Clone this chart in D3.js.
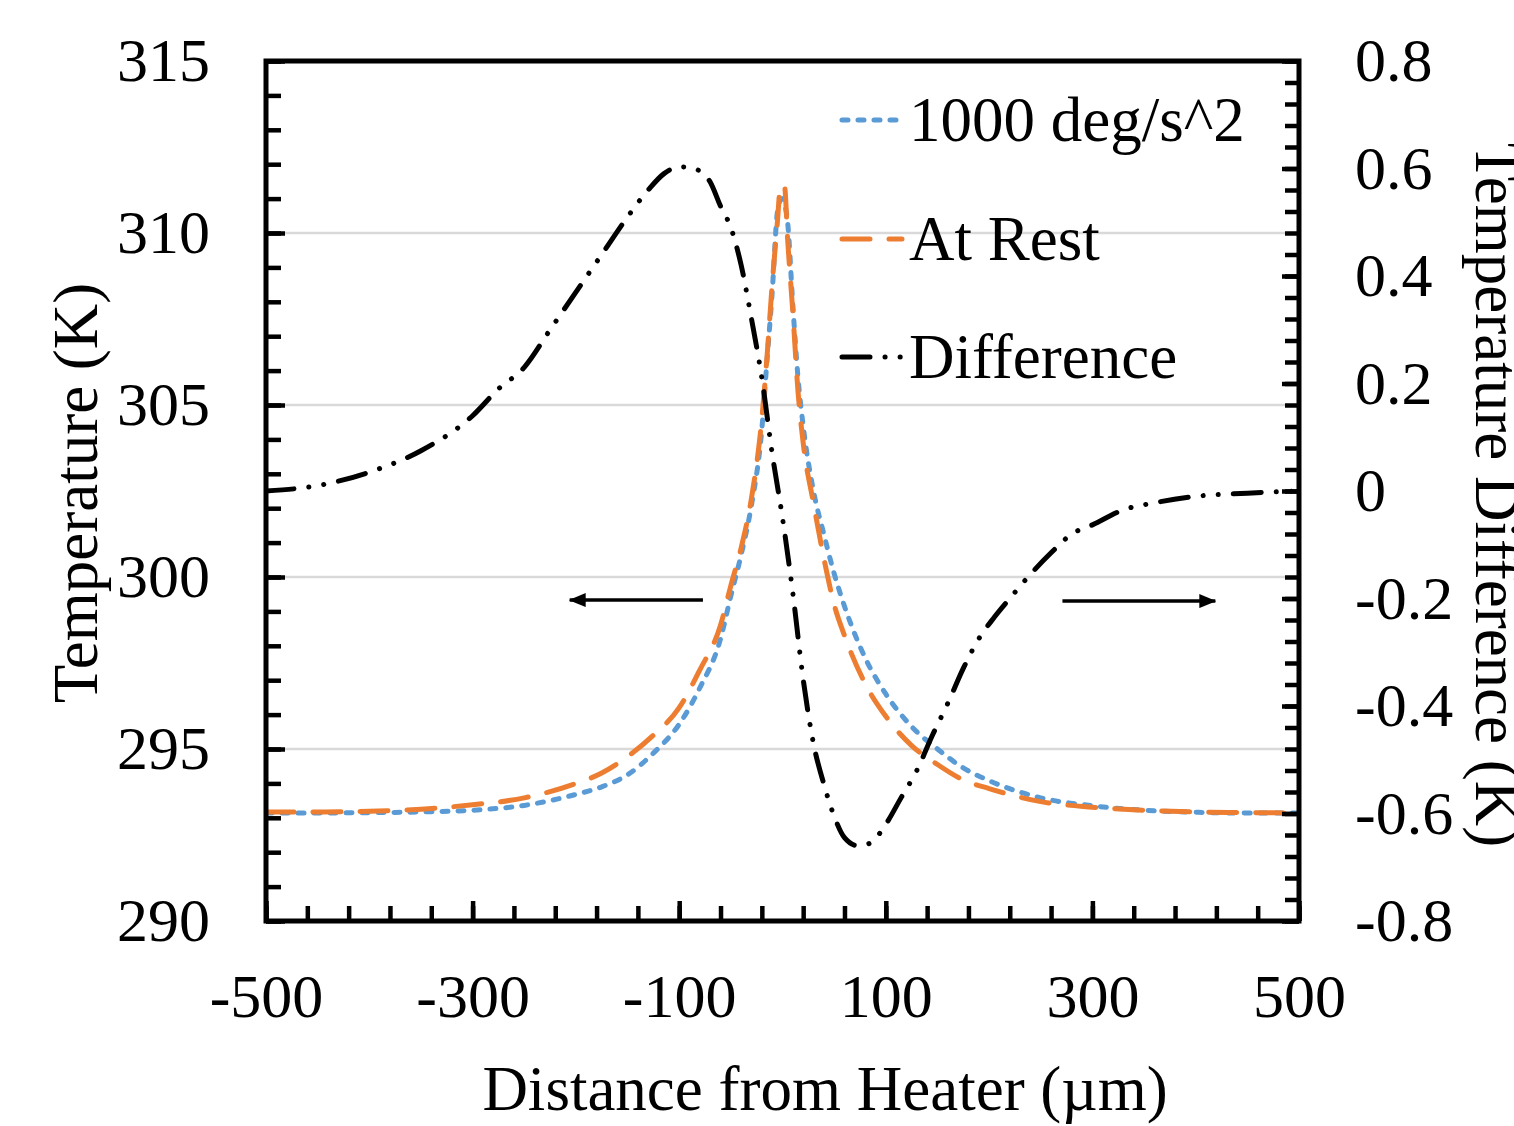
<!DOCTYPE html>
<meta charset="utf-8">
<title>Temperature vs distance from heater</title>
<style>
    body {
        margin: 0;
        background: #fff;
    }

    svg text {
        font-family: "Liberation Serif", "Times New Roman", serif;
        fill: #000;
    }
</style>

<body>
    <script src="https://cdn.jsdelivr.net/npm/d3@7"></script>
    <script>
        /* Distance from heater (um), shared by both temperature curves */
        var distance = [-500, -450, -400, -350, -300, -250, -200, -175, -150, -125, -100, -80, -60, -50, -40, -30,
            -20, -15, -10, -5, -2, 0, 2, 5, 10, 15, 20, 30, 40, 50, 60, 80, 100, 125, 150, 175, 200, 250, 300, 350,
            400, 450, 500];

        /* Temperature (K) while spinning at 1000 deg/s^2 */
        var tempSpin = [293.14, 293.14, 293.15, 293.17, 293.22, 293.36, 293.68, 293.90, 294.25, 294.88, 295.72,
            296.78, 298.20, 299.45, 300.65, 302.10, 304.30, 306.30, 308.26, 310.60, 310.95, 311.00, 310.85, 310.30,
            307.90, 305.80, 304.40, 302.50, 301.25, 300.10, 299.15, 297.65, 296.60, 295.65, 295.00, 294.45, 294.08,
            293.58, 293.35, 293.22, 293.16, 293.14, 293.14];

        /* Temperature (K) at rest */
        var tempRest = [293.17, 293.17, 293.19, 293.25, 293.38, 293.58, 294.00, 294.30, 294.78, 295.40, 296.20,
            297.30, 298.60, 299.75, 300.85, 302.30, 304.60, 306.40, 308.50, 310.30, 311.35, 311.40, 311.35, 309.80,
            307.70, 305.40, 303.90, 302.15, 300.55, 299.20, 298.30, 296.90, 295.95, 295.10, 294.55, 294.10, 293.85,
            293.47, 293.31, 293.22, 293.17, 293.15, 293.14];

        /* Temperature difference (K), right axis */
        var diffDistance = [-500, -450, -400, -350, -300, -275, -250, -225, -200, -175, -150, -130, -115, -100, -90,
            -80, -70, -60, -50, -40, -30, -20, -10, 0, 10, 20, 30, 40, 50, 60, 73, 85, 100, 115, 130, 145, 160, 175,
            190, 205, 220, 240, 260, 280, 300, 330, 360, 400, 450, 500];
        var diffValue = [0.000, 0.010, 0.035, 0.075, 0.140, 0.190, 0.230, 0.300, 0.370, 0.440, 0.510, 0.560, 0.590,
            0.603, 0.602, 0.595, 0.575, 0.530, 0.490, 0.420, 0.320, 0.210, 0.070, -0.050, -0.190, -0.350, -0.470,
            -0.545, -0.605, -0.645, -0.660, -0.655, -0.620, -0.570, -0.520, -0.455, -0.395, -0.330, -0.275, -0.235,
            -0.200, -0.155, -0.115, -0.080, -0.063, -0.035, -0.022, -0.010, -0.004, 0.000];

        var xTicks = [-500, -300, -100, 100, 300, 500];
        var leftTicks = [290, 295, 300, 305, 310, 315];
        var rightTicks = [-0.8, -0.6, -0.4, -0.2, 0, 0.2, 0.4, 0.6, 0.8];
        var seriesNames = ["1000 deg/s^2", "At Rest", "Difference"];

        /* Arrows showing which axis a curve belongs to: [from x, to x, temperature] */
        var arrows = [[-77, -206, 299.33], [271, 419, 299.3]];

        /* Layout constants */
        var width = 1514,
            height = 1126;
        var plot = { left: 266, right: 1299, top: 61, bottom: 921 };
        var fontSize = 62;
        var lineWidth = 5;

        var svg = d3.select("body").append("svg")
            .attr("width", width)
            .attr("height", height);

        var x = d3.scaleLinear().domain([-500, 500]).range([plot.left, plot.right]);
        var yLeft = d3.scaleLinear().domain([290, 315]).range([plot.bottom, plot.top]);
        var yRight = d3.scaleLinear().domain([-0.8, 0.8]).range([plot.bottom, plot.top]);

        // grid lines on the left axis
        svg.append("g")
            .selectAll("line")
            .data(leftTicks.slice(1, -1))
            .enter()
            .append("line")
            .attr("x1", plot.left)
            .attr("x2", plot.right)
            .attr("y1", d => yLeft(d))
            .attr("y2", d => yLeft(d))
            .attr("stroke", "#d9d9d9")
            .attr("stroke-width", 2.5);

        svg.append("clipPath")
            .attr("id", "clip")
            .append("rect")
            .attr("x", plot.left)
            .attr("y", plot.top)
            .attr("width", plot.right - plot.left)
            .attr("height", plot.bottom - plot.top);

        var tempLine = d3.line()
            .x((d, i) => x(distance[i]))
            .y(d => yLeft(d))
            .curve(d3.curveMonotoneX);

        var diffLine = d3.line()
            .x((d, i) => x(diffDistance[i]))
            .y(d => yRight(d))
            .curve(d3.curveMonotoneX);

        var styles = [
            { color: "#5b9bd5", dash: "6,10" },
            { color: "#ed7d31", dash: "28,19" },
            { color: "#000000", dash: "28,15,0.1,15,0.1,15" }
        ];

        var curves = svg.append("g").attr("clip-path", "url(#clip)");

        curves.append("path")
            .attr("d", tempLine(tempSpin))
            .attr("fill", "none")
            .attr("stroke", styles[0].color)
            .attr("stroke-width", lineWidth)
            .attr("stroke-linecap", "round")
            .attr("stroke-dasharray", styles[0].dash);

        curves.append("path")
            .attr("d", tempLine(tempRest))
            .attr("fill", "none")
            .attr("stroke", styles[1].color)
            .attr("stroke-width", lineWidth)
            .attr("stroke-linecap", "round")
            .attr("stroke-dasharray", styles[1].dash);

        curves.append("path")
            .attr("d", diffLine(diffValue))
            .attr("fill", "none")
            .attr("stroke", styles[2].color)
            .attr("stroke-width", lineWidth)
            .attr("stroke-linecap", "round")
            .attr("stroke-dasharray", styles[2].dash);

        // arrows
        svg.append("defs").append("marker")
            .attr("id", "head")
            .attr("markerUnits", "userSpaceOnUse")
            .attr("markerWidth", 17)
            .attr("markerHeight", 14)
            .attr("refX", 16)
            .attr("refY", 7)
            .attr("orient", "auto")
            .append("path")
            .attr("d", "M0,0 L17,7 L0,14 Z")
            .attr("fill", "#000");

        svg.append("g")
            .selectAll("line")
            .data(arrows)
            .enter()
            .append("line")
            .attr("x1", d => x(d[0]))
            .attr("x2", d => x(d[1]))
            .attr("y1", d => yLeft(d[2]))
            .attr("y2", d => yLeft(d[2]))
            .attr("stroke", "#000")
            .attr("stroke-width", 3.5)
            .attr("marker-end", "url(#head)");

        /* Axes: minor ticks first, then the labelled major ticks */
        function styleAxis(g) {
            g.select(".domain").remove();
            g.selectAll(".tick line").attr("stroke", "#000").attr("stroke-width", 4.5);
            g.selectAll("text").attr("font-size", fontSize).attr("fill", "#000");
        }

        svg.append("g")
            .attr("transform", "translate(0," + plot.bottom + ")")
            .call(d3.axisBottom(x).tickValues(d3.range(-500, 501, 40)).tickSize(-15).tickFormat(""))
            .call(styleAxis);
        svg.append("g")
            .attr("transform", "translate(0," + plot.bottom + ")")
            .call(d3.axisBottom(x).tickValues(xTicks).tickSize(-20).tickPadding(10).tickFormat(d => String(d)))
            .call(styleAxis)
            .selectAll("text")
            .attr("y", 96)
            .attr("dy", 0);

        svg.append("g")
            .attr("transform", "translate(" + plot.left + ",0)")
            .call(d3.axisLeft(yLeft).tickValues(d3.range(290, 316, 1)).tickSize(-15).tickFormat(""))
            .call(styleAxis);
        svg.append("g")
            .attr("transform", "translate(" + plot.left + ",0)")
            .call(d3.axisLeft(yLeft).tickValues(leftTicks).tickSize(-19).tickPadding(56).tickFormat(d => String(d)))
            .call(styleAxis);

        svg.append("g")
            .attr("transform", "translate(" + plot.right + ",0)")
            .call(d3.axisRight(yRight).tickValues(d3.range(0, 41).map(i => -0.8 + i * 0.04)).tickSize(-14).tickFormat(""))
            .call(styleAxis);
        svg.append("g")
            .attr("transform", "translate(" + plot.right + ",0)")
            .call(d3.axisRight(yRight).tickValues(rightTicks).tickSize(-17).tickPadding(56)
                .tickFormat(d => Math.abs(d) < 1e-9 ? "0" : d.toFixed(1)))
            .call(styleAxis);

        // frame
        svg.append("rect")
            .attr("x", plot.left)
            .attr("y", plot.top)
            .attr("width", plot.right - plot.left)
            .attr("height", plot.bottom - plot.top)
            .attr("fill", "none")
            .attr("stroke", "#000")
            .attr("stroke-width", 5);

        // axis titles
        svg.append("text")
            .text("Distance from Heater (\u00b5m)")
            .attr("x", 825)
            .attr("y", 1110)
            .attr("text-anchor", "middle")
            .attr("font-size", 63);

        svg.append("text")
            .text("Temperature (K)")
            .attr("transform", "translate(97,493) rotate(-90)")
            .attr("text-anchor", "middle")
            .attr("font-size", 63);

        // the reference crops this title at the right edge as well
        svg.append("text")
            .text("Temperature Difference (K)")
            .attr("transform", "translate(1476,495) rotate(90)")
            .attr("text-anchor", "middle")
            .attr("font-size", 63);

        // legend
        var legend = svg.append("g")
            .selectAll("g")
            .data(seriesNames)
            .enter()
            .append("g")
            .attr("transform", (d, i) => "translate(842," + [120, 239, 357][i] + ")");

        legend.append("line")
            .attr("x1", 0)
            .attr("x2", 60)
            .attr("stroke", (d, i) => styles[i].color)
            .attr("stroke-width", lineWidth)
            .attr("stroke-linecap", "round")
            .attr("stroke-dasharray", (d, i) => styles[i].dash);

        legend.append("text")
            .text(d => d)
            .attr("x", 67)
            .attr("y", 21)
            .attr("font-size", 63);
    </script>
</body>
